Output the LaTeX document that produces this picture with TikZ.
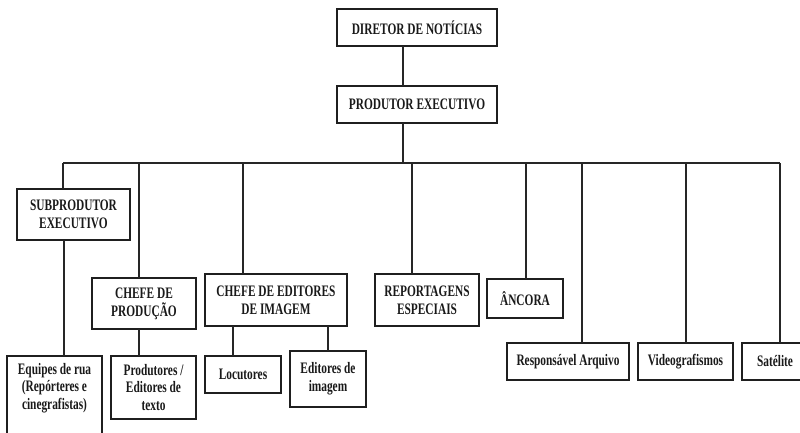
\documentclass[tikz,border=0pt]{standalone}
\usepackage{fontspec}
\setmainfont{Liberation Serif}[FakeStretch=0.71]
\begin{document}
\begin{tikzpicture}[x=1pt,y=-1pt,
  box/.style={draw=black!88, line width=1.5pt, inner sep=0pt, outer sep=0pt,
    align=center, text=black!90, font=\bfseries\fontsize{16}{17.8}\selectfont},
  link/.style={draw=black!85, line width=1.3pt}]
\clip (0,0) rectangle (800,432);

% top of the hierarchy
\node[box, minimum width=160pt, minimum height=37pt] (dir)  at (417,27.5)  {DIRETOR DE NOTÍCIAS};
\node[box, minimum width=160pt, minimum height=37pt] (prod) at (417,104.5) {PRODUTOR EXECUTIVO};

% second level
\node[box, minimum width=113pt, minimum height=51pt] (sub)    at (73.5,214.5) {SUBPRODUTOR\\EXECUTIVO};
\node[box, minimum width=104pt, minimum height=51pt] (chprod) at (144,303.5)  {CHEFE DE\\PRODUÇÃO};
\node[box, minimum width=142pt, minimum height=52pt] (ched)   at (276,300)    {CHEFE DE EDITORES\\DE IMAGEM};
\node[box, minimum width=104pt, minimum height=52pt] (rep)    at (427,300)    {REPORTAGENS\\ESPECIAIS};
\node[box, minimum width=76pt,  minimum height=39pt] (anc)    at (525,298.5)  {ÂNCORA};
\node[box, minimum width=122pt, minimum height=37pt] (arq)    at (568,361.5)  {Responsável Arquivo};
\node[box, minimum width=95pt,  minimum height=37pt] (vid)    at (685.5,361.5) {Videografismos};
\node[box, minimum width=66pt,  minimum height=37pt] (sat)    at (775,361.5)  {Satélite};

% third level
\node[box, minimum width=95pt, minimum height=84pt] (equ)  at (54.5,398)  {Equipes de rua\\(Repórteres e\\cinegrafistas)\\\strut};
\node[box, minimum width=85pt, minimum height=63pt] (ptx)  at (153.5,387.5) {Produtores /\\Editores de\\texto};
\node[box, minimum width=76pt, minimum height=37pt] (loc)  at (243,374.5) {Locutores};
\node[box, minimum width=76pt, minimum height=56pt] (edi)  at (328,379)   {Editores de\\imagem};

% connectors
\coordinate (top) at (403,0);
\draw[link] (dir.south -| top) -- (prod.north -| top);
\coordinate (bus) at (403,163);
\draw[link] (prod.south -| top) -- (bus);

\coordinate (bL) at (63,163);
\coordinate (bR) at (780,163);
\draw[link] (bL) -- (bR);

\coordinate (b2) at (139,163);
\coordinate (b3) at (243,163);
\coordinate (b4) at (412,163);
\coordinate (b5) at (526,163);
\coordinate (b6) at (582,163);
\coordinate (b7) at (686,163);

\draw[link] (bL) -- (bL |- sub.north);
\draw[link] (b2) -- (b2 |- chprod.north);
\draw[link] (b3) -- (b3 |- ched.north);
\draw[link] (b4) -- (b4 |- rep.north);
\draw[link] (b5) -- (b5 |- anc.north);
\draw[link] (b6) -- (b6 |- arq.north);
\draw[link] (b7) -- (b7 |- vid.north);
\draw[link] (bR) -- (bR |- sat.north);

\coordinate (s1) at (64,0);
\draw[link] (sub.south -| s1) -- (equ.north -| s1);
\draw[link] (chprod.south -| b2) -- (ptx.north -| b2);
\coordinate (s3) at (233,0);
\coordinate (s4) at (328,0);
\draw[link] (ched.south -| s3) -- (loc.north -| s3);
\draw[link] (ched.south -| s4) -- (edi.north -| s4);
\end{tikzpicture}
\end{document}
